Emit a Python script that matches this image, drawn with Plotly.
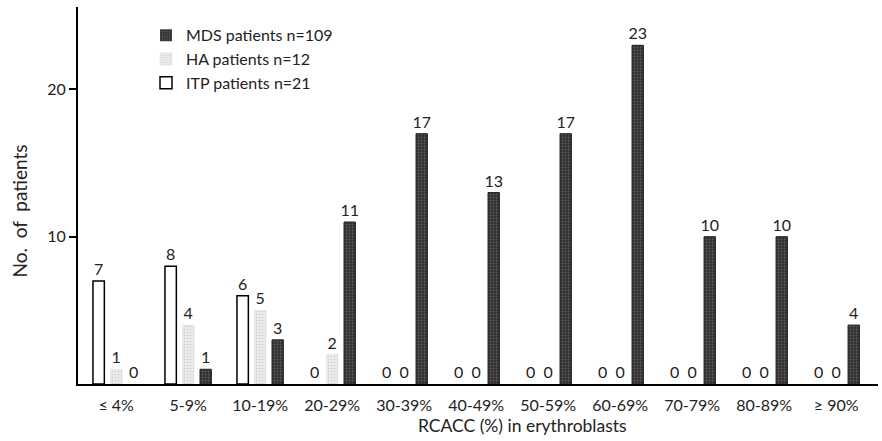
import plotly.graph_objects as go

categories = ["≤ 4%", "5-9%", "10-19%", "20-29%", "30-39%", "40-49%",
              "50-59%", "60-69%", "70-79%", "80-89%", "≥ 90%"]
itp = [7, 8, 6, 0, 0, 0, 0, 0, 0, 0, 0]
ha = [1, 4, 5, 2, 0, 0, 0, 0, 0, 0, 0]
mds = [0, 1, 3, 11, 17, 13, 17, 23, 10, 10, 4]

FONT = "Lato, Open Sans, sans-serif"
x_idx = list(range(len(categories)))


def lw(vals, w):
    return [w if v > 0 else 0 for v in vals]


common = dict(textposition="outside", cliponaxis=False, constraintext="none",
              textfont=dict(size=16, color="#222"))

fig = go.Figure()
fig.add_trace(go.Bar(
    x=x_idx, y=itp, name="ITP patients n=21",
    marker=dict(color="white", line=dict(color="black", width=lw(itp, 1.5))),
    text=itp, **common,
))
fig.add_trace(go.Bar(
    x=x_idx, y=ha, name="HA patients n=12",
    marker=dict(color="white", line=dict(color="#d8d8d8", width=lw(ha, 0.5)),
                pattern=dict(shape=".", fgcolor="#b0b0b0", bgcolor="#f0f0f0",
                             size=3, solidity=0.35)),
    text=ha, **common,
))
fig.add_trace(go.Bar(
    x=x_idx, y=mds, name="MDS patients n=109",
    marker=dict(color="#3a3a3a", line=dict(color="#222", width=lw(mds, 1)),
                pattern=dict(shape=".", fgcolor="#8a8a8a", bgcolor="#303030",
                             size=3, solidity=0.3)),
    text=mds, **common,
))

fig.update_layout(
    width=882, height=441,
    margin=dict(l=78, r=4, t=7, b=57),
    plot_bgcolor="white", paper_bgcolor="white",
    barmode="group", bargap=0.27, bargroupgap=0.35,
    font=dict(family=FONT, size=16, color="#222"),
    showlegend=True,
    legend=dict(x=0.085, y=0.97, xanchor="left", yanchor="top",
                traceorder="reversed", bgcolor="rgba(0,0,0,0)",
                font=dict(size=16), itemwidth=30, tracegroupgap=0),
    xaxis=dict(
        range=[-0.53, 10.58], tickmode="array", tickvals=x_idx,
        ticktext=categories, showline=True, linecolor="black", linewidth=2,
        ticks="outside", ticklen=6, tickcolor="rgba(0,0,0,0)",
        showgrid=False, zeroline=False,
        tickfont=dict(size=16),
    ),
    yaxis=dict(
        range=[0, 25.6], tickvals=[10, 20], showline=True, linecolor="black",
        linewidth=2, ticks="outside", ticklen=7, tickwidth=1.5,
        tickcolor="black", showgrid=False, zeroline=False,
        tickfont=dict(size=16),
    ),
    annotations=[
        dict(text="RCACC (%) in erythroblasts", xref="paper", yref="paper",
             x=0.555, y=-0.11, xanchor="center", yanchor="middle",
             showarrow=False, font=dict(size=17.5)),
        dict(text="No.  of  patients", xref="paper", yref="paper",
             x=-0.073, y=0.459, xanchor="center", yanchor="middle",
             textangle=-90, showarrow=False, font=dict(size=19)),
    ],
)

fig.write_html("out.html")
